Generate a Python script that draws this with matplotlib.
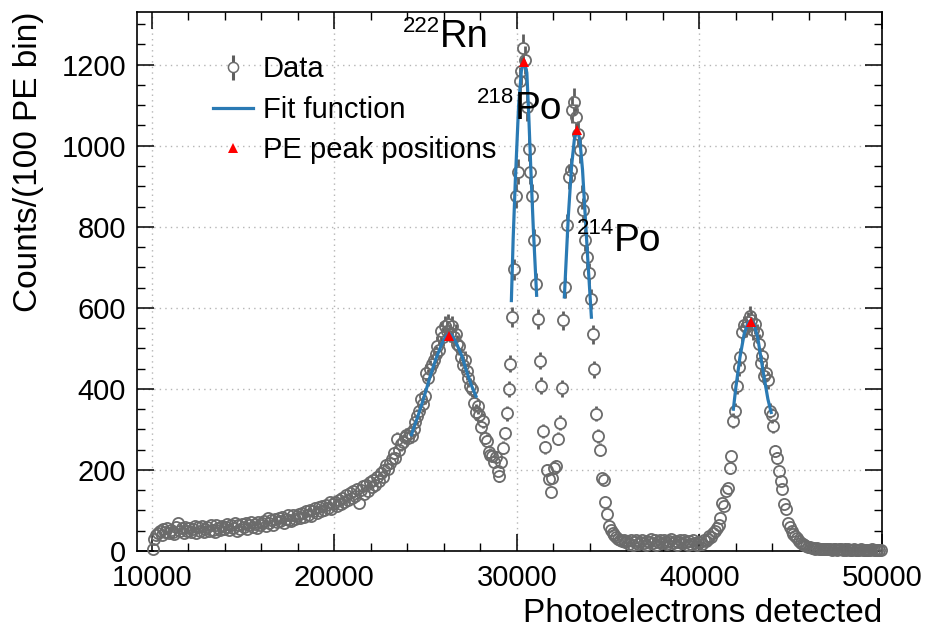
import numpy as np
import matplotlib.pyplot as plt
from matplotlib.ticker import MultipleLocator
from matplotlib.lines import Line2D

plt.rcParams['font.family'] = ['Liberation Sans', 'DejaVu Sans']

# histogram: 100 PE bins from 10000 to 50000, one row per 1000 PE
bin_start = 10000
bin_width = 100
counts = [
    5, 30, 40, 45, 50, 40, 54, 46, 57, 44,
    53, 48, 42, 58, 69, 50, 56, 45, 60, 49,
    57, 46, 54, 62, 44, 58, 50, 61, 48, 55,
    60, 49, 64, 53, 46, 65, 56, 51, 62, 54,
    60, 66, 52, 63, 56, 68, 50, 64, 55, 67,
    58, 69, 55, 64, 72, 58, 67, 56, 71, 63,
    68, 74, 62, 82, 68, 77, 64, 80, 71, 82,
    74, 85, 68, 80, 88, 77, 75, 90, 80, 86,
    92, 82, 95, 85, 98, 89, 102, 86, 99, 106,
    93, 108, 98, 112, 101, 114, 106, 120, 104, 116,
    122, 110, 127, 116, 132, 120, 138, 126, 142, 130,
    147, 136, 154, 118, 150, 160, 140, 164, 148, 170,
    158, 174, 163, 182, 172, 192, 182, 200, 212, 203,
    218, 228, 242, 230, 277, 248, 264, 270, 282, 286,
    280, 292, 284, 302, 318, 332, 345, 374, 363, 382,
    440, 428, 450, 462, 472, 485, 507, 496, 542, 528,
    556, 544, 560, 538, 556, 528, 536, 510, 506, 478,
    460, 472, 443, 426, 406, 400, 365, 343, 357, 336,
    305, 322, 280, 272, 245, 238, 235, 220, 232, 198,
    185, 220, 255, 290, 340, 400, 462, 578, 695, 876,
    936, 1160, 1185, 1240, 1212, 1095, 993, 936, 876, 768,
    660, 572, 470, 408, 297, 256, 200, 178, 145, 180,
    205, 210, 277, 317, 401, 569, 651, 804, 924, 940,
    1089, 1109, 1070, 1030, 990, 874, 841, 767, 725, 685,
    621, 535, 448, 339, 284, 250, 180, 175, 120, 91,
    62, 52, 45, 40, 35, 30, 28, 25, 27, 22,
    24, 18, 27, 16, 22, 28, 17, 23, 26, 20,
    16, 25, 21, 29, 19, 26, 15, 23, 28, 20,
    27, 21, 17, 25, 30, 20, 24, 16, 23, 28,
    19, 26, 21, 15, 24, 18, 27, 20, 16, 23,
    22, 17, 27, 24, 30, 38, 35, 45, 50, 57,
    65, 82, 119, 110, 148, 156, 205, 235, 322, 346,
    408, 453, 478, 540, 557, 552, 565, 580, 569, 545,
    560, 537, 512, 463, 480, 433, 440, 421, 346, 335,
    309, 247, 230, 198, 173, 153, 116, 104, 69, 60,
    49, 42, 36, 32, 25, 20, 17, 14, 12, 10,
    9, 8, 7, 6, 8, 5, 6, 4, 5, 6,
    4, 5, 3, 4, 6, 3, 4, 5, 3, 4,
    3, 4, 2, 3, 4, 3, 2, 3, 4, 2,
    3, 2, 3, 2, 4, 2, 3, 2, 3, 2,
]

# fit curves
fit1_x = [24200, 24600, 24860, 25250, 25600, 25900, 26100, 26270, 26450, 26700, 27000, 27240, 27500, 27800]
fit1_y = [283, 335, 371, 430, 478, 512, 528, 536, 532, 512, 480, 445, 410, 378]
fit2_x = [29700, 29800, 29920, 30100, 30250, 30410, 30550, 30650, 30770, 30900, 31090]
fit2_y = [614, 770, 915, 1100, 1185, 1210, 1180, 1080, 940, 800, 627]
fit3_x = [32600, 32700, 32820, 33000, 33150, 33310, 33450, 33600, 33730, 33900, 34090]
fit3_y = [623, 715, 825, 950, 1015, 1042, 1015, 940, 840, 710, 573]
fit4_x = [41850, 42000, 42220, 42450, 42650, 42820, 43000, 43200, 43500, 43750, 43950]
fit4_y = [346, 405, 478, 535, 562, 569, 560, 525, 440, 375, 338]

# peak positions
peak_x = [26270, 30410, 33310, 42820]
peak_y = [530, 1207, 1040, 566]

grey = '#6b6b6b'
bar_grey = '#5e5e5e'
blue = '#2a7ab4'

counts = np.array(counts, dtype=float)
x = bin_start + bin_width * (np.arange(len(counts)) + 0.5)
err = np.sqrt(counts)

fig = plt.figure(figsize=(9.29, 6.30), dpi=100)
ax = fig.add_axes([137 / 929, 1 - 551 / 630, (882 - 137) / 929, (551 - 12) / 630])
ax.set_xlim(9200, 50000)
ax.set_ylim(0, 1330)

ax.grid(True, which='major', ls=(0, (1, 3)), color='#b5b5b5', lw=1.0)
ax.set_axisbelow(True)

# error bars drawn outside the open circles only
gap = 13
m = err > gap
ax.vlines(x[m], (counts + gap)[m], (counts + err)[m], color=bar_grey, lw=2.0, zorder=2)
ax.vlines(x[m], (counts - err)[m], (counts - gap)[m], color=bar_grey, lw=2.0, zorder=2)
ax.plot(x, counts, 'o', mfc='none', mec=grey, ms=8.0, mew=1.3, zorder=3, clip_on=False)

for fx, fy in [(fit1_x, fit1_y), (fit2_x, fit2_y), (fit3_x, fit3_y), (fit4_x, fit4_y)]:
    ax.plot(fx, fy, color=blue, lw=2.3, zorder=4, solid_capstyle='butt')

ax.plot(peak_x, peak_y, '^', color='red', ms=7.5, mew=0, zorder=5, ls='none')

# isotope labels
ax.text(25810, 1244, 'Rn', fontsize=27.5, ha='left', va='baseline')
ax.text(25810, 1281, '222', fontsize=16, ha='right', va='baseline')
ax.text(29880, 1066, 'Po', fontsize=28, ha='left', va='baseline', zorder=6)
ax.text(29880, 1105, '218', fontsize=16, ha='right', va='baseline', zorder=6)
ax.text(35330, 740, 'Po', fontsize=28, ha='left', va='baseline', zorder=6)
ax.text(35330, 782, '214', fontsize=16, ha='right', va='baseline', zorder=6)

# legend
h_data = (Line2D([], [], marker='|', ms=18, mew=2.2, color=bar_grey, ls='none'),
          Line2D([], [], marker='o', ms=7.3, mfc='white', mec=grey, mew=1.1, ls='none'))
h_fit = Line2D([], [], color=blue, lw=2.3)
h_peak = Line2D([], [], marker='^', color='red', ms=6.5, mew=0, ls='none')
ax.legend([h_data, h_fit, h_peak], ['Data', 'Fit function', 'PE peak positions'],
          loc='upper left', bbox_to_anchor=(0.102, 0.920), frameon=False, fontsize=21,
          handlelength=1.38, handletextpad=0.33, labelspacing=0.435,
          borderpad=0, borderaxespad=0)

ax.xaxis.set_major_locator(MultipleLocator(10000))
ax.xaxis.set_minor_locator(MultipleLocator(2000))
ax.yaxis.set_major_locator(MultipleLocator(200))
ax.yaxis.set_minor_locator(MultipleLocator(50))
ax.tick_params(which='both', direction='in', top=True, right=True, labelsize=21)
ax.tick_params(which='major', length=12, width=1.1)
ax.tick_params(which='minor', length=6, width=1.0)
ax.tick_params(axis='x', pad=9.5)
ax.tick_params(axis='y', pad=8)
for s in ax.spines.values():
    s.set_linewidth(1.2)

ax.set_xlabel('Photoelectrons detected', fontsize=24, loc='right')
ax.xaxis.set_label_coords(1.0, -0.087)
ax.set_ylabel('Counts/(100 PE bin)', fontsize=24, loc='top')
ax.yaxis.set_label_coords(-0.125, 1.0)

fig.savefig('out.png', dpi=100)
